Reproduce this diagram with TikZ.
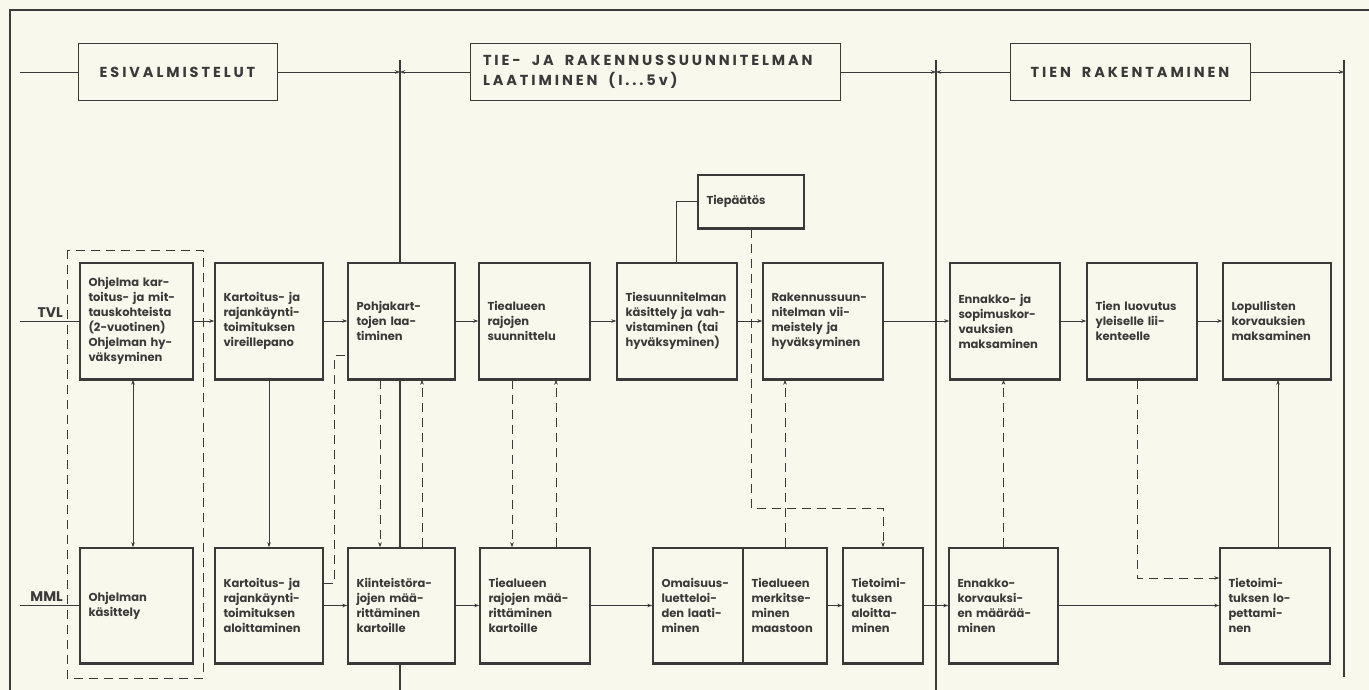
\documentclass[tikz,border=0pt]{standalone}
\usepackage{fontspec}
\setmainfont{Poppins}
\usetikzlibrary{arrows.meta,calc}
\definecolor{paper}{HTML}{F9F8EC}
\definecolor{ink}{HTML}{3A3A3A}
\tikzset{
  proc/.style={draw=ink, fill=paper, line width=1.4pt, rectangle, inner sep=0pt,
    font=\fontsize{11.5}{15}\selectfont\bfseries, align=left, text=ink},
  hdr/.style={draw=ink, fill=paper, line width=0.9pt, rectangle, inner sep=0pt,
    font=\fontsize{14.5}{20}\selectfont\bfseries\addfontfeatures{LetterSpace=20}, text=ink},
  conn/.style={draw=ink, line width=0.8pt},
  dsh/.style={conn, dash pattern=on 9pt off 6pt},
  arr/.style={-{Stealth[length=5pt,width=3.5pt]}},
  biarr/.style={{Stealth[length=5pt,width=3.5pt]}-{Stealth[length=5pt,width=3.5pt]}},
  divider/.style={draw=ink, line width=2pt},
  lbl/.style={font=\fontsize{14}{16}\selectfont\bfseries, text=ink, inner sep=0pt},
  shadowedge/.style={draw=ink, line width=3pt}
}
\newcommand{\procbox}[6]{\node[proc, minimum width=#4pt, minimum height=#5pt, text width=\dimexpr #4pt-17pt\relax] (#1) at (#2,#3) {#6};}
\newcommand{\wsp}{\hspace{11pt}}
\begin{document}
\begin{tikzpicture}[x=1pt,y=-1pt]
\fill[paper] (0,0) rectangle (1369,690);
\useasboundingbox (0,0) rectangle (1369,690);
% outer frame
\draw[ink, line width=1.2pt] (10,690) -- (10,10) -- (1369,10);
% dividers
\draw[divider] (400,60) -- (400,690);
\draw[divider] (936,60) -- (936,690);
\draw[divider] (1344,60) -- (1344,677);
% dashed group
\draw[dsh] (67,250) rectangle (203,678);
% header boxes
\node[hdr, minimum width=199pt, minimum height=57pt] (h1) at (177.5,72) {ESIVALMISTELUT};
\node[hdr, minimum width=370pt, minimum height=57pt, text width=344pt, align=left] (h2) at (655,72) {TIE-\wsp JA\wsp RAKENNUSSUUNNITELMAN\\LAATIMINEN\wsp (I...5v)};
\node[hdr, minimum width=240pt, minimum height=57pt] (h3) at (1130,72) {TIEN\wsp RAKENTAMINEN};
\coordinate (hl) at (20,72);
\coordinate (d1) at (400,72);
\coordinate (d2) at (936,72);
\coordinate (d3) at (1344,72);
\draw[conn] (hl) -- (h1);
\draw[conn,arr] (h1) -- (d1);
\draw[conn,arr] (h2) -- (d1);
\draw[conn,arr] (h2) -- (d2);
\draw[conn,arr] (h3) -- (d2);
\draw[conn,arr] (h3) -- (d3);
% TVL row
\procbox{a1}{136.5}{321}{113}{116}{Ohjelma kar-\\toitus- ja mit-\\tauskohteista\\(2-vuotinen)\\Ohjelman hy-\\väksyminen}
\procbox{a2}{269}{321}{108}{116}{Kartoitus- ja\\rajankäynti-\\toimituksen\\vireillepano}
\procbox{a3}{401.5}{321}{107}{116}{Pohjakart-\\tojen laa-\\timinen}
\procbox{a4}{534.5}{321}{111}{116}{Tiealueen\\rajojen\\suunnittelu}
\procbox{a5}{677}{321}{120}{116}{Tiesuunnitelman\\käsittely ja vah-\\vistaminen (tai\\hyväksyminen)}
\procbox{a6}{823}{321}{120}{116}{Rakennussuun-\\nitelman vii-\\meistely ja\\hyväksyminen}
\procbox{a7}{1005}{321}{110}{116}{Ennakko- ja\\sopimuskor-\\vauksien\\maksaminen}
\procbox{a8}{1142}{321}{110}{116}{Tien luovutus\\yleiselle lii-\\kenteelle}
\procbox{a9}{1277}{321}{108}{116}{Lopullisten\\korvauksien\\maksaminen}
% MML row
\procbox{b1}{136.5}{605.5}{113}{115}{Ohjelman\\käsittely}
\procbox{b2}{269}{605.5}{108}{115}{Kartoitus- ja\\rajankäynti-\\toimituksen\\aloittaminen}
\procbox{b3}{401.5}{605.5}{107}{115}{Kiinteistöra-\\jojen mää-\\rittäminen\\kartoille}
\procbox{b4}{535}{605.5}{110}{115}{Tiealueen\\rajojen mää-\\rittäminen\\kartoille}
\procbox{b5a}{698}{605.5}{90}{115}{Omaisuus-\\luetteloi-\\den laati-\\minen}
\procbox{b5b}{785}{605.5}{84}{115}{Tiealueen\\merkitse-\\minen\\maastoon}
\procbox{b6}{883}{605.5}{80}{115}{Tietoimi-\\tuksen\\aloitta-\\minen}
\procbox{b7}{1003.5}{605.5}{109}{115}{Ennakko-\\korvauksi-\\en määrää-\\minen}
\procbox{b8}{1275}{605.5}{110}{115}{Tietoimi-\\tuksen lo-\\pettami-\\nen}
% decision
\procbox{tp}{751}{201.5}{106}{53}{Tiepäätös}
% thick bottom edges
\foreach \n in {a1,a2,a3,a4,a5,a6,a7,a8,a9,b1,b2,b3,b4,b5a,b5b,b6,b7,b8,tp}
  \draw[shadowedge] (\n.south west) -- (\n.south east);
% side labels
\node[lbl, anchor=base east] (tvl) at (63,317) {TVL};
\node[lbl, anchor=base east] (mml) at (63,601) {MML};
\coordinate (tvlstart) at (20,321);
\coordinate (mmlstart) at (20,605.5);
\draw[conn] (tvlstart) -- (a1);
\draw[conn] (mmlstart) -- (b1);
% TVL row flow
\draw[conn,arr] (a1) -- (a2);
\draw[conn,arr] (a2) -- (a3);
\draw[conn,arr] (a3) -- (a4);
\draw[conn,arr] (a4) -- (a5);
\draw[conn,arr] (a5) -- (a6);
\draw[conn,arr] (a6) -- (a7);
\draw[conn,arr] (a7) -- (a8);
\draw[conn,arr] (a8) -- (a9);
% MML row flow
\draw[conn,arr] (b2) -- (b3);
\draw[conn,arr] (b3) -- (b4);
\draw[conn,arr] (b4) -- (b5a);
\draw[conn,arr] (b5b) -- (b6);
\draw[conn,arr] (b6) -- (b7);
\draw[conn,arr] (b7) -- (b8);
% vertical links
\draw[conn,biarr] ([xshift=-3.5pt]a1.south) -- ([xshift=-3.5pt]b1.north);
\draw[conn,arr] (a2.south) -- (b2.north);
\draw[dsh] ([yshift=22.5pt]b2.east) -| ([xshift=-13pt,yshift=-34pt]a3.west) -- ([yshift=-34pt]a3.west);
\draw[dsh,arr] ([xshift=-21.5pt]a3.south) -- ([xshift=-21.5pt]b3.north);
\draw[dsh,arr] ([xshift=20.5pt]b3.north) -- ([xshift=20.5pt]a3.south);
\draw[dsh,arr] ([xshift=-22.5pt]a4.south) -- ([xshift=-23pt]b4.north);
\draw[dsh,arr] ([xshift=21pt]b4.north) -- ([xshift=21.5pt]a4.south);
\draw[conn] ([xshift=-1pt]a5.north) |- (tp.west);
\coordinate (k1) at (751,508);
\draw[dsh,arr] (tp.south) -- (k1) -| (b6.north);
\draw[dsh,arr] (b5b.north) -- (b5b.north |- a6.south);
\draw[dsh,arr] (b7.north) -- (b7.north |- a7.south);
\draw[dsh,arr] ([xshift=-5pt]a8.south) |- ([yshift=27.5pt]b8.west);
\draw[conn,arr] ([xshift=3pt]b8.north) -- ([xshift=3pt]b8.north |- a9.south);
\end{tikzpicture}
\end{document}
